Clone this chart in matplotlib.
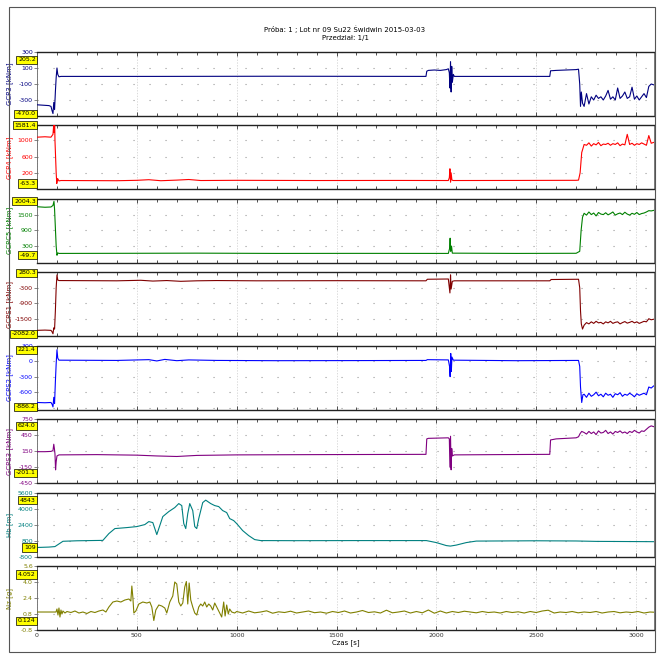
import matplotlib.pyplot as plt
from matplotlib.patches import Rectangle
from matplotlib.ticker import MultipleLocator, FixedLocator
from matplotlib.transforms import blended_transform_factory, offset_copy

plt.rcParams['font.family'] = ['Liberation Sans Narrow', 'DejaVu Sans']

# Dane ---------------------------------------------------------------------
title_line1 = 'Próba: 1 ; Lot nr 09 Su22 Świdwin 2015-03-03'
title_line2 = 'Przedział: 1/1'
x_label = 'Czas [s]'
x_ticks = [0, 500, 1000, 1500, 2000, 2500, 3000]

labels = ['GCP3 [kNm]', 'GCP4 [kNm]', 'GCPC5 [kNm]', 'GCPS1 [kNm]',
          'GCPS2 [kNm]', 'GCPS3 [kNm]', 'Hb [m]', 'Nz [g]']
colors = ['#000080', '#ff0000', '#008000', '#800000',
          '#0000ff', '#800080', '#008080', '#808000']
max_text = ['205.2', '1581.4', '2004.3', '280.3', '221.4', '624.0', '4843', '4.052']
min_text = ['-470.0', '-63.3', '-49.7', '-2082.0', '-886.2', '-201.1', '109', '0.124']
max_vals = [205.2, 1581.4, 2004.3, 280.3, 221.4, 624.0, 4843, 4.052]
min_vals = [-470.0, -63.3, -49.7, -2082.0, -886.2, -201.1, 109, 0.124]
y_limits = [(-500, 300), (-210, 1370), (-340, 2100), (-2180, 300),
            (-940, 300), (-450, 750), (-800, 5600), (-0.8, 5.6)]
y_ticks = [[300, 100, -100, -300, -500], [1400, 1000, 600, 200],
           [2100, 1500, 900, 300], [300, -300, -900, -1500],
           [300, 0, -300, -600, -900], [750, 450, 150, -150, -450],
           [5600, 4000, 2400, 800, -800], [5.6, 4.0, 2.4, 0.8, -0.8]]
# etykiety zasloniete przez zolte pola zostaja puste
y_ticklabels = [['300', '100', '-100', '-300', ''], ['', '1000', '600', '200'],
                ['', '1500', '900', '300'], ['', '-300', '-900', '-1500'],
                ['300', '0', '-300', '-600', ''], ['750', '450', '150', '-150', '-450'],
                ['5600', '4000', '2400', '800', '-800'], ['5.6', '4.0', '2.4', '0.8', '-0.8']]

# wspolne chwile czasu dla koncowki lotu (po 2720 s)
tail_t = [2740, 2752, 2764, 2776, 2788, 2800, 2812, 2824, 2836, 2848,
          2860, 2872, 2884, 2896, 2908, 2920, 2932, 2944, 2956, 2968,
          2980, 2992, 3004, 3016, 3028, 3040, 3052, 3064, 3076, 3088]

gcp3_t = [0, 30, 60, 70, 75, 80, 84, 88, 92, 96, 100, 104, 110, 120, 600, 1200, 1948, 1952,
          1960, 1990, 2020, 2050, 2060, 2065, 2068, 2071, 2074, 2077, 2080, 2085, 2090, 2300,
          2568, 2572, 2600, 2650, 2700, 2712, 2718, 2722, 2726, 2732]
gcp3_v = [-360, -365, -370, -380, -430, -470, -330, -420, -200, -20, 100, 20, -10, -5, -5, -3,
          -5, 60, 70, 75, 70, 80, 90, 40, -150, 180, -200, 120, -80, 20, -5, -5, -5, 65, 70, 75,
          80, 85, -100, -380, -200, -340]
gcp3_tail = [-380, -220, -350, -260, -300, -240, -280, -260, -300, -250,
             -180, -290, -260, -300, -150, -280, -250, -200, -280, -260,
             -140, -290, -250, -300, -260, -220, -270, -130, -100, -110]

gcp4_t = [0, 40, 70, 80, 84, 86, 88, 90, 93, 96, 99, 103, 110, 120, 400, 500, 560, 620, 700,
          760, 820, 1000, 1400, 1800, 2060, 2065, 2068, 2071, 2074, 2078, 2085, 2400, 2700,
          2712, 2720, 2728]
gcp4_v = [1080, 1090, 1080, 1150, 1400, 1200, 1581, 1000, 600, 200, -63, 60, 0, 10, 5, 15, 30,
          5, 20, 35, 10, 15, 10, 12, 10, 80, 300, -30, 200, 20, 10, 12, 15, 20, 200, 700]
gcp4_tail = [900, 880, 940, 860, 920, 890, 950, 870, 910, 900,
             930, 880, 920, 900, 940, 870, 910, 890, 1150, 900,
             930, 880, 920, 900, 940, 910, 880, 1120, 930, 950]

gcpc5_t = [0, 40, 70, 80, 85, 88, 92, 96, 100, 104, 110, 500, 800, 1200, 1600, 2060, 2066,
           2069, 2072, 2076, 2080, 2400, 2700, 2718, 2725, 2732]
gcpc5_v = [1800, 1780, 1790, 1850, 2004, 1700, 1000, 300, -50, 40, 20, 25, 30, 20, 22, 20,
           200, 600, 100, 300, 30, 20, 25, 100, 900, 1400]
gcpc5_tail = [1550, 1480, 1600, 1500, 1560, 1450, 1580, 1520, 1500, 1570,
              1490, 1540, 1600, 1480, 1530, 1560, 1500, 1590, 1520, 1480,
              1550, 1510, 1580, 1500, 1540, 1560, 1600, 1650, 1640, 1660]

gcps1_t = [0, 40, 70, 75, 80, 84, 88, 92, 96, 100, 104, 110, 400, 520, 580, 650, 720, 800,
           900, 1100, 1500, 1948, 1955, 2060, 2068, 2071, 2074, 2080, 2090, 2568, 2575, 2712,
           2718, 2722, 2726, 2732]
gcps1_v = [-1950, -1940, -1950, -2000, -2082, -1850, -1900, -1200, -300, 200, 0, -20, -30,
           -10, -40, -20, -50, -30, -20, -30, -25, -30, 30, 40, -500, 200, -350, -50, -30, -30,
           20, 30, -300, -1200, -1700, -1900]
gcps1_tail = [-1750, -1650, -1700, -1620, -1680, -1600, -1660, -1640, -1700, -1620,
              -1660, -1600, -1680, -1640, -1620, -1700, -1650, -1610, -1670, -1640,
              -1600, -1660, -1620, -1680, -1640, -1600, -1620, -1500, -1540, -1520]

gcps2_t = [0, 40, 70, 75, 80, 84, 88, 92, 96, 100, 104, 110, 400, 560, 600, 640, 700, 760,
           900, 1200, 1600, 1948, 1955, 2060, 2066, 2069, 2072, 2075, 2078, 2085, 2400, 2712,
           2718, 2722, 2728, 2734]
gcps2_v = [-800, -805, -800, -830, -886, -700, -820, -400, -50, 221, 60, 20, 15, 30, 5, 35, 10,
           25, 15, 10, 12, 15, 30, 25, -100, -300, 150, -200, 80, 20, 10, 15, -100, -500, -800,
           -650]
gcps2_tail = [-640, -700, -620, -680, -650, -600, -670, -640, -690, -620,
              -660, -640, -700, -630, -650, -610, -680, -640, -660, -620,
              -650, -690, -630, -660, -640, -620, -650, -500, -520, -480]

gcps3_t = [0, 40, 70, 80, 84, 87, 90, 93, 96, 100, 110, 300, 500, 600, 700, 800, 1000, 1400,
           1948, 1952, 1960, 2060, 2065, 2068, 2071, 2074, 2077, 2080, 2090, 2300, 2568, 2572,
           2600, 2700, 2712, 2720, 2728]
gcps3_v = [140, 140, 145, 160, 280, 200, 100, -201, -50, 60, 80, 85, 75, 60, 50, 70, 80, 85,
           90, 380, 390, 400, 380, -150, 430, -200, 200, 60, 80, 85, 90, 360, 380, 400, 420,
           480, 520]
gcps3_tail = [500, 470, 520, 480, 510, 460, 530, 490, 500, 540,
              480, 510, 470, 520, 500, 530, 490, 510, 480, 520,
              500, 540, 510, 490, 530, 520, 560, 600, 624, 610]

hb_t = [0, 60, 90, 130, 200, 330, 360, 390, 450, 500, 540, 560, 580, 590, 600, 610, 630, 660,
        690, 710, 725, 735, 745, 755, 765, 780, 790, 800, 810, 830, 845, 870, 890, 910, 930,
        950, 965, 985, 1000, 1030, 1060, 1090, 1120, 1300, 1600, 1950, 2000, 2050, 2070, 2100,
        2150, 2200, 2500, 2700, 2800, 3000, 3090]
hb_v = [109, 150, 200, 730, 780, 820, 1500, 2000, 2100, 2200, 2400, 2700, 2600, 2000, 1400,
        2000, 3200, 3700, 4100, 4500, 4300, 2500, 2000, 3500, 4500, 3800, 2200, 2000, 3000,
        4600, 4843, 4500, 4300, 4200, 3800, 3600, 3000, 2800, 2500, 1800, 1300, 900, 800, 790,
        800, 800, 600, 300, 250, 350, 600, 750, 780, 760, 720, 700, 690]

nz_t = [0, 95, 100, 105, 110, 115, 120, 125, 130, 140, 150, 170, 190, 210, 230, 250, 270, 290,
        310, 330, 345, 360, 380, 400, 420, 440, 460, 470, 475, 480, 485, 495, 510, 530, 550,
        565, 575, 585, 595, 610, 625, 640, 650, 665, 680, 690, 700, 710, 720, 730, 740, 748,
        755, 762, 770, 780, 790, 800, 810, 820, 830, 840, 850, 860, 870, 880, 890, 900, 915,
        925, 935, 942, 950, 958, 965, 975, 990]
nz_v = [1.0, 1.0, 1.3, 0.7, 1.4, 0.5, 1.2, 0.8, 1.1, 0.9, 1.05, 0.95, 1.1, 0.9, 1.0, 0.85, 1.05,
        0.95, 1.1, 1.2, 1.0, 1.5, 2.0, 2.1, 2.0, 2.2, 2.3, 2.1, 3.6, 2.5, 0.9, 1.1, 1.8, 2.0, 1.9,
        2.0, 1.5, 0.15, 1.2, 1.7, 1.6, 1.4, 0.9, 2.0, 2.6, 4.0, 3.8, 2.0, 1.6, 1.9, 3.5, 4.05,
        1.8, 3.9, 2.2, 1.5, 0.9, 0.7, 1.5, 1.8, 1.6, 2.0, 1.5, 1.8, 1.6, 1.2, 1.9, 1.5, 0.9, 0.5,
        2.0, 0.6, 1.7, 0.8, 1.3, 1.0, 0.9]
nz_tail_t = [1000, 1030, 1060, 1090, 1120, 1150, 1180, 1210, 1240, 1270, 1300, 1330, 1360,
             1390, 1420, 1450, 1480, 1510, 1540, 1570, 1600, 1630, 1660, 1690, 1720, 1750,
             1780, 1810, 1840, 1870, 1900, 1930, 1960, 1990, 2020, 2050, 2080, 2110, 2140,
             2170, 2200, 2230, 2260, 2290, 2320, 2350, 2380, 2410, 2440, 2470, 2500, 2530,
             2560, 2590, 2620, 2650, 2680, 2710, 2740, 2770, 2800, 2830, 2860, 2890, 2920,
             2950, 2980, 3010, 3040, 3070, 3090]
nz_tail_v = [1.05, 0.9, 1.1, 0.92, 1.0, 1.12, 0.88, 1.02, 0.95, 1.08,
             0.9, 1.0, 1.1, 0.93, 1.0, 0.88, 1.05, 0.95, 1.1, 0.9,
             1.0, 1.15, 0.95, 1.02, 0.9, 1.18, 0.92, 1.0, 1.1, 0.9,
             1.05, 0.92, 1.2, 0.88, 1.1, 0.9, 1.05, 0.95, 1.08, 1.0,
             0.92, 1.05, 0.95, 1.0, 0.9, 1.05, 0.95, 1.02, 0.9, 1.05,
             0.95, 1.1, 1.18, 0.9, 1.0, 0.95, 1.05, 0.92, 1.0, 0.95,
             1.05, 0.9, 1.0, 1.05, 0.92, 1.0, 0.95, 1.05, 0.9, 1.0, 0.98]

series = [
    (gcp3_t + tail_t, gcp3_v + gcp3_tail),
    (gcp4_t + tail_t, gcp4_v + gcp4_tail),
    (gcpc5_t + tail_t, gcpc5_v + gcpc5_tail),
    (gcps1_t + tail_t, gcps1_v + gcps1_tail),
    (gcps2_t + tail_t, gcps2_v + gcps2_tail),
    (gcps3_t + tail_t, gcps3_v + gcps3_tail),
    (hb_t, hb_v),
    (nz_t + nz_tail_t, nz_v + nz_tail_v),
]

# przesuniecie pol max / min (pt), zeby nie zaslanialy etykiet osi
max_box_shift = [0, 0, 0, 0, 0, 0, 0, 5]
min_box_shift = [0, 0, 0, 0, 0, -2, 0, 0]

# Rysunek ------------------------------------------------------------------
W, H = 658, 655
fig = plt.figure(figsize=(W / 100, H / 100), dpi=100)
fig.patch.set_facecolor('white')

# ramka wokol calosci
fig.add_artist(Rectangle((9 / W, 1 - 652 / H), 646 / W, 645 / H, transform=fig.transFigure,
                         fill=False, lw=0.8, ec='#555555'))

fig.text(345 / W, 1 - 29 / H, title_line1, ha='center', va='center', fontsize=5)
fig.text(345 / W, 1 - 38 / H, title_line2, ha='center', va='center', fontsize=5)

ax_left, ax_w = 37, 617
top0, ph, gap = 52, 64, 9.43

for i in range(8):
    top = top0 + i * (ph + gap)
    ax = fig.add_axes([ax_left / W, 1 - (top + ph) / H, ax_w / W, ph / H])
    t, v = series[i]
    c = colors[i]
    ax.plot(t, v, color=c, lw=0.8, zorder=3)

    ax.set_xlim(0, 3090)
    ax.set_ylim(*y_limits[i])
    ax.yaxis.set_major_locator(FixedLocator(y_ticks[i]))
    ax.set_yticklabels(y_ticklabels[i])
    ax.xaxis.set_major_locator(FixedLocator(x_ticks))
    ax.xaxis.set_minor_locator(MultipleLocator(100))

    ax.tick_params(axis='y', labelsize=4.5, length=2, width=0.5, direction='out',
                   colors='#555555', labelcolor=c, pad=1)
    ax.tick_params(axis='x', which='both', direction='in', top=True, bottom=True,
                   length=2, width=0.6, colors='#333333', labelsize=4.5, pad=2)
    ax.tick_params(axis='x', which='major', length=3)
    if i < 7:
        ax.tick_params(axis='x', labelbottom=False)
    else:
        ax.set_xlabel(x_label, fontsize=5, labelpad=1)

    ax.grid(axis='x', which='major', ls=(0, (2, 2)), color='#cccccc', lw=0.5)
    ax.grid(axis='y', which='major', ls=(0, (1, 13.4)), color='#999999', lw=0.8)

    for side in ['top', 'bottom']:
        ax.spines[side].set_linewidth(1.0)
        ax.spines[side].set_color('#222222')
    for side in ['left', 'right']:
        ax.spines[side].set_linewidth(0.6)
        ax.spines[side].set_color('#666666')

    ax.set_ylabel(labels[i], color=c, fontsize=5)
    ax.yaxis.set_label_coords(-24 / ax_w, 0.5)

    # zolte etykiety z wartoscia max / min
    lo, hi = y_limits[i]
    trans = blended_transform_factory(ax.transAxes, ax.transData)
    for txt, val, dy in [(max_text[i], min(max_vals[i], hi), max_box_shift[i]),
                         (min_text[i], max(min_vals[i], lo), min_box_shift[i])]:
        tr = offset_copy(trans, fig=fig, y=dy, units='points')
        ax.text(-0.002, val, txt, transform=tr, ha='right', va='center', fontsize=4.5,
                color='black', zorder=10, clip_on=False,
                bbox=dict(boxstyle='square,pad=0.25', fc='#ffff00', ec='black', lw=0.5))

fig.savefig('out.png', dpi=100)
